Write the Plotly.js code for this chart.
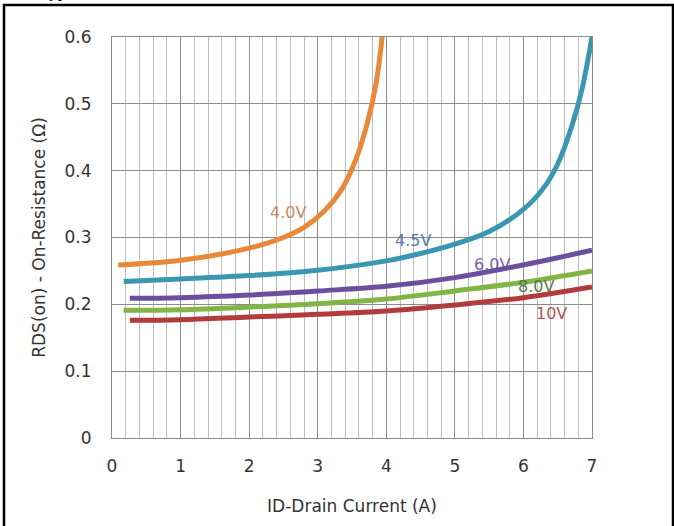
<!DOCTYPE html>
<html>
<head>
<meta charset="utf-8">
<script src="https://cdn.plot.ly/plotly-3.0.1.min.js"></script>
<style>
  html, body { margin: 0; padding: 0; background: #ffffff; }
  #chart { width: 674px; height: 526px; }
</style>
</head>
<body>
<div id="chart"></div>
<script>
// On-resistance vs drain current for several gate voltages
const vgs40_id  = [0.09, 1.0, 2.0, 2.5, 2.8, 3.1, 3.35, 3.55, 3.72, 3.85, 3.94];
const vgs40_rds = [0.259, 0.266, 0.284, 0.300, 0.315, 0.340, 0.372, 0.415, 0.470, 0.530, 0.600];

const vgs45_id  = [0.17, 1.0, 2.0, 3.0, 4.0, 4.5, 5.0, 5.5, 6.0, 6.3, 6.5, 6.7, 6.85, 7.0];
const vgs45_rds = [0.234, 0.238, 0.243, 0.251, 0.265, 0.276, 0.290, 0.309, 0.342, 0.375, 0.410, 0.465, 0.520, 0.600];

const vgs60_id  = [0.26, 1.0, 2.0, 3.0, 4.0, 5.0, 6.0, 7.0];
const vgs60_rds = [0.209, 0.210, 0.214, 0.220, 0.227, 0.240, 0.259, 0.281];

const vgs80_id  = [0.17, 1.0, 2.0, 3.0, 4.0, 5.0, 6.0, 7.0];
const vgs80_rds = [0.191, 0.192, 0.196, 0.201, 0.208, 0.220, 0.233, 0.250];

const vgs10_id  = [0.26, 1.0, 2.0, 3.0, 4.0, 5.0, 6.0, 7.0];
const vgs10_rds = [0.176, 0.177, 0.181, 0.185, 0.190, 0.199, 0.210, 0.226];

const seriesNames = ['4.0V', '4.5V', '6.0V', '8.0V', '10V'];
const lineColors  = ['#E8893A', '#3A97B2', '#6B4E9E', '#82B446', '#B23B3B'];
const labelColors = ['#CC7C52', '#3E72A6', '#6B4E9E', '#4E6B44', '#B0403E'];
// where each gate-voltage label sits (drain current, resistance)
const labelId  = [2.57, 4.39, 5.54, 6.19, 6.41];
const labelRds = [0.338, 0.296, 0.259, 0.226, 0.187];

const xs = [vgs40_id, vgs45_id, vgs60_id, vgs80_id, vgs10_id];
const ys = [vgs40_rds, vgs45_rds, vgs60_rds, vgs80_rds, vgs10_rds];

const traces = xs.map((x, i) => ({
  x: x,
  y: ys[i],
  name: seriesNames[i],
  type: 'scatter',
  mode: 'lines',
  line: { color: lineColors[i], width: 5, shape: 'spline', smoothing: 1 },
  hoverinfo: 'skip'
}));

const font = "DejaVu Sans, Arial, sans-serif";

const annotations = seriesNames.map((n, i) => ({
  x: labelId[i], y: labelRds[i], xref: 'x', yref: 'y',
  text: n, showarrow: false,
  font: { family: font, size: 16, color: labelColors[i] },
  opacity: 0.9
}));

// heading text that runs off the top of the frame
annotations.push({
  x: (38 - 112) / 480, y: (438 - 3) / 401, xref: 'paper', yref: 'paper',
  xanchor: 'left', yanchor: 'bottom',
  text: 'Typical', showarrow: false,
  font: { family: 'Liberation Serif, Times New Roman, serif', size: 17, color: '#000000' }
});

const layout = {
  width: 674,
  height: 526,
  margin: { l: 112, r: 82, t: 37, b: 88 },
  paper_bgcolor: '#ffffff',
  plot_bgcolor: '#ffffff',
  showlegend: false,
  xaxis: {
    range: [0, 7],
    dtick: 1,
    tick0: 0,
    showgrid: true,
    gridcolor: '#8c8c8c',
    gridwidth: 1,
    minor: { dtick: 0.2, showgrid: true, gridcolor: '#bdbdbd', gridwidth: 1 },
    zeroline: false,
    showline: true,
    linecolor: '#8c8c8c',
    linewidth: 1,
    mirror: true,
    ticks: '',
    ticklabelstandoff: 13,
    tickfont: { family: font, size: 17, color: '#333333' },
    title: { text: 'ID-Drain Current (A)', standoff: 24,
             font: { family: font, size: 17, color: '#333333' } },
    fixedrange: true
  },
  yaxis: {
    range: [0, 0.6],
    dtick: 0.1,
    tick0: 0,
    showgrid: true,
    gridcolor: '#8c8c8c',
    gridwidth: 1,
    zeroline: false,
    showline: true,
    linecolor: '#8c8c8c',
    linewidth: 1,
    mirror: true,
    ticks: '',
    ticklabelstandoff: 16,
    tickfont: { family: font, size: 17, color: '#333333' },
    title: { text: 'RDS(on) - On-Resistance (Ω)', standoff: 14,
             font: { family: font, size: 17, color: '#333333' } },
    fixedrange: true
  },
  annotations: annotations,
  shapes: [{
    type: 'path',
    xref: 'paper', yref: 'paper',
    path: 'M ' + ((4 - 112) / 480) + ',' + ((438 - 540) / 401) +
          ' L ' + ((4 - 112) / 480) + ',' + ((438 - 5) / 401) +
          ' L ' + ((673 - 112) / 480) + ',' + ((438 - 5) / 401) +
          ' L ' + ((673 - 112) / 480) + ',' + ((438 - 540) / 401),
    line: { color: '#000000', width: 2.5 }
  }]
};

Plotly.newPlot('chart', traces, layout, { displayModeBar: false, staticPlot: true });
</script>
</body>
</html>
